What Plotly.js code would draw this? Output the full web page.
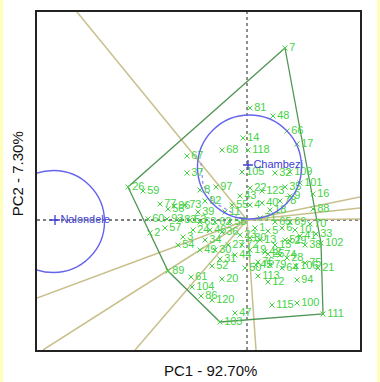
<!DOCTYPE html>
<html><head><meta charset="utf-8">
<script src="https://cdn.plot.ly/plotly-3.0.1.min.js"></script>
<style>html,body{margin:0;padding:0;background:#fff;}#chart{width:380px;height:382px;}</style>
</head><body><div id="chart"></div>
<script>
// Genotype scores (PC1, PC2)
const genoLabels = ["7","81","48","66","17","14","68","118","67","37","105","32","109","8","97","92","39","26","59","77","96","56","60","93","83","2","3","24","16","88","102","33","21","75","94","45","113","12","28","29","115","100","111","103","47","120","86","104","61","20","89","52","31","25","64","106","22","123","35","78","40","4","18","9","43","55","101","11","1","5","6","10","13","15","19","23","27","30","34","36","38","41","42","44","46","49","50","51","53","54","57","58","62","63","65","69","70","71","72","73","74","76","79","80"];
const genoPC1 = [3.8,0.3,2.6,4.0,5.0,-0.4,-2.5,0.1,-6.0,-6.0,-0.5,2.8,4.3,-4.7,-3.1,-4.2,-4.9,-11.9,-10.4,-8.7,-7.3,-7.9,-9.9,-8.0,-6.7,-9.7,-6.4,-5.4,6.6,6.6,7.4,6.9,7.1,5.8,5.0,0.9,1.1,2.1,4.0,4.3,2.5,5.0,7.6,-2.7,-1.2,-3.5,-4.6,-5.5,-5.6,-2.5,-7.9,-3.5,-2.7,2.1,3.5,4.9,0.3,1.5,3.8,3.3,1.5,0.3,2.3,4.3,-0.7,-1.5,5.3,-2.2,0.8,2.1,3.5,4.8,1.3,2.8,0.3,-0.7,-1.9,-3.2,-4.2,-2.5,5.8,5.3,1.8,-1.2,-3.7,-4.7,-0.2,3.8,-5.7,-6.9,-8.2,-1.7,-3.2,-4.7,2.8,4.3,6.3,1.3,-0.5,-6.2,3.3,1.1,2.3,0.3];
const genoPC2 = [17.2,11.2,10.4,8.9,7.6,8.2,7.0,7.0,6.4,4.7,4.8,4.7,4.8,3.0,3.3,1.9,0.8,3.3,2.9,1.6,1.4,1.1,0.1,0.1,0.0,-1.3,-1.7,-1.0,2.6,1.1,-2.3,-1.4,-4.8,-4.3,-6.0,-4.5,-5.6,-6.2,-3.8,-2.1,-8.5,-8.3,-9.4,-10.2,-9.3,-8.0,-7.6,-6.7,-5.7,-5.9,-5.1,-4.6,-3.9,-3.4,-4.8,-4.6,3.2,2.9,3.3,1.9,1.7,1.5,1.0,2.4,2.4,1.5,3.7,0.8,-0.8,-1.1,-0.8,-1.0,-2.0,-2.5,-3.0,-1.5,-2.5,-3.0,-2.0,-1.2,-2.5,-1.6,-3.2,-3.5,-1.0,-3.0,-4.8,-2.0,0.0,-2.5,-0.8,-0.2,-0.2,-0.2,-0.2,-0.2,-0.4,0.2,-2.5,1.5,-3.5,-4.2,-4.5,-1.8];

// Environments
const envLabels = ["Nalondele","Chambezi"];
const envPC1 = [-19.2, 0.1];
const envPC2 = [0.0, 5.5];
const envCircleX = [-19.35, 0.25];
const envCircleY = [-0.15, 5.3];
const circleR = [5.1, 5.2];

// Convex hull (which-won-where polygon) vertices: 7, 102, 111, 103, 89, 26
const hullPC1 = [3.8, 7.4, 7.6, -2.7, -7.9, -11.9, 3.8];
const hullPC2 = [17.2, -2.3, -9.4, -10.2, -5.1, 3.3, 17.2];

// Sector rays from origin (end points on plot frame)
const rayPC1 = [-17.0, 11.3, 11.3, 11.3, 0.9, -11.2, -20.4, -21.0];
const rayPC2 = [20.8, 2.3, 1.2, 0.1, -13.0, -13.0, -13.0, -7.8];

// Dotted guide
const guidePC1 = [-4.6, -4.4, -3.2, -0.2];
const guidePC2 = [5.7, 3.5, 1.7, 0.0];

// Axis titles
const xTitle = 'PC1 - 92.70%';
const yTitle = 'PC2 - 7.30%';

const xr = [-21.0, 11.3], yr = [-13.0, 20.8];

const rx = [], ry = [];
for (let i = 0; i < rayPC1.length; i++) { rx.push(0, rayPC1[i], null); ry.push(0, rayPC2[i], null); }

const green = 'rgb(70,210,70)';
const traces = [
  {x: rx, y: ry, mode: 'lines', line: {color: 'rgb(200,192,140)', width: 1.5}, hoverinfo: 'skip'},
  {x: hullPC1, y: hullPC2, mode: 'lines', line: {color: 'rgb(80,150,85)', width: 1.3}, hoverinfo: 'skip'},
  {x: guidePC1, y: guidePC2, mode: 'lines', line: {color: 'rgb(140,140,235)', width: 1.2, dash: 'dot'}, hoverinfo: 'skip'},
  {x: genoPC1, y: genoPC2, text: genoLabels, mode: 'markers+text', textposition: 'middle right',
   marker: {symbol: 'x-thin', size: 5, line: {color: green, width: 1}},
   textfont: {family: 'Liberation Sans, Arial, sans-serif', size: 11, color: green}, cliponaxis: true},
  {x: envPC1, y: envPC2, text: envLabels, mode: 'markers+text', textposition: 'middle right',
   marker: {symbol: 'cross-thin', size: 7, line: {color: 'rgb(60,60,210)', width: 1.3}},
   textfont: {family: 'Liberation Sans, Arial, sans-serif', size: 11, color: 'rgb(60,60,210)'}}
];

const shapes = [
  {type: 'line', xref: 'x', yref: 'y', x0: 0, x1: 0, y0: yr[0], y1: yr[1], line: {color: '#555', width: 1.3, dash: 'dot'}, layer: 'below'},
  {type: 'line', xref: 'x', yref: 'y', x0: xr[0], x1: xr[1], y0: 0, y1: 0, line: {color: '#555', width: 1.3, dash: 'dot'}, layer: 'below'},
  {type: 'rect', xref: 'paper', yref: 'paper', x0: -0.115, x1: -0.105, y0: -0.2, y1: 1.1, line: {width: 0}, fillcolor: 'rgba(255,255,170,0.8)'},
  {type: 'rect', xref: 'paper', yref: 'paper', x0: 1.053, x1: 1.062, y0: -0.2, y1: 1.1, line: {width: 0}, fillcolor: 'rgba(255,255,170,0.8)'}
];
for (let i = 0; i < envCircleX.length; i++) {
  shapes.push({type: 'circle', xref: 'x', yref: 'y',
    x0: envCircleX[i] - circleR[i], x1: envCircleX[i] + circleR[i],
    y0: envCircleY[i] - circleR[i], y1: envCircleY[i] + circleR[i],
    line: {color: 'rgb(100,100,235)', width: 1.4}});
}

const axisFont = {family: 'Liberation Sans, Arial, sans-serif', size: 15, color: '#111'};
const layout = {
  width: 380, height: 382,
  margin: {l: 37, r: 20, t: 12, b: 32},
  paper_bgcolor: '#fff', plot_bgcolor: '#fff',
  showlegend: false,
  xaxis: {range: xr, showgrid: false, zeroline: false, showticklabels: false, ticks: '',
    showline: true, mirror: true, linecolor: '#222', linewidth: 2},
  yaxis: {range: yr, showgrid: false, zeroline: false, showticklabels: false, ticks: '',
    showline: true, mirror: true, linecolor: '#222', linewidth: 2},
  annotations: [
    {text: xTitle, xref: 'paper', yref: 'paper', x: 0.536, y: 0, yshift: -20, xanchor: 'center', yanchor: 'middle', showarrow: false, font: axisFont},
    {text: yTitle, xref: 'paper', yref: 'paper', x: 0, xshift: -20, y: 0.52, xanchor: 'center', yanchor: 'middle', textangle: -90, showarrow: false, font: axisFont}
  ],
  shapes: shapes
};
Plotly.newPlot('chart', traces, layout, {staticPlot: true, displayModeBar: false});
</script></body></html>
